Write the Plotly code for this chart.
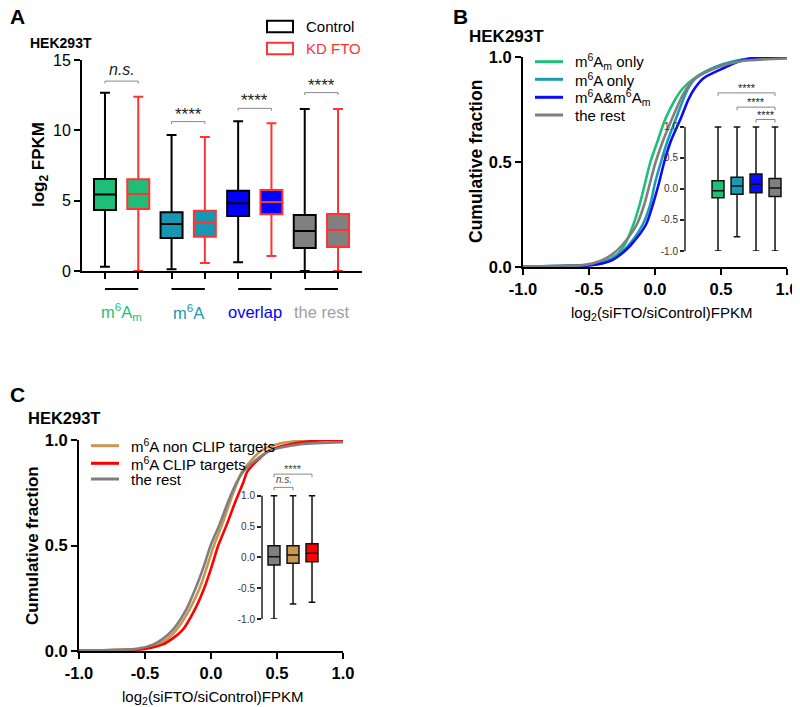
import plotly.graph_objects as go

W, H = 800, 707
OFF = 8  # page body margin offset of the embedded figure

# ---------------- Panel A data ----------------
a_groups = ["m<sup>6</sup>A<sub>m</sub>", "m<sup>6</sup>A", "overlap", "the rest"]
a_group_fill = ["#1dbf78", "#1797b2", "#0000ff", "#808080"]
a_group_text = ["#1dbf78", "#1797b2", "#0000ff", "#a0a0a0"]
a_conditions = ["Control", "KD FTO"]
a_cond_colors = ["#000000", "#ff3333"]
a_min = [[0.31, 0.0], [0.12, 0.57], [0.62, 1.07], [0.0, 0.0]]
a_q1 = [[4.34, 4.41], [2.35, 2.44], [3.91, 4.03], [1.64, 1.71]]
a_med = [[5.43, 5.47], [3.34, 3.44], [4.81, 4.90], [2.84, 2.91]]
a_q3 = [[6.54, 6.52], [4.17, 4.29], [5.71, 5.76], [3.98, 4.05]]
a_max = [[12.68, 12.39], [9.67, 9.53], [10.64, 10.50], [11.52, 11.52]]
a_sig = ["<i>n.s.</i>", "****", "****", "****"]
a_sig_y = [13.5, 10.62, 11.56, 12.68]
a_yticks = [0, 5, 10, 15]

# ---------------- Panel B data ----------------
b_names = ["m<sup>6</sup>A<sub>m</sub> only", "m<sup>6</sup>A only",
           "m<sup>6</sup>A&m<sup>6</sup>A<sub>m</sub>", "the rest"]
b_colors = ["#1dbf7a", "#1a9bb5", "#0a0aff", "#7f7f7f"]
b_y = [
    [0.003, 0.01, 0.03, 0.06, 0.1, 0.2, 0.3, 0.4, 0.5, 0.6, 0.7, 0.8, 0.85, 0.9, 0.95, 0.98, 1.0, 1.0],
    [0.003, 0.01, 0.03, 0.06, 0.1, 0.2, 0.3, 0.4, 0.5, 0.6, 0.7, 0.8, 0.85, 0.9, 0.95, 0.98, 1.0, 1.0],
    [0.003, 0.01, 0.03, 0.06, 0.1, 0.2, 0.3, 0.4, 0.5, 0.6, 0.7, 0.8, 0.85, 0.9, 0.95, 0.98, 1.0, 1.0],
    [0.003, 0.01, 0.03, 0.06, 0.1, 0.2, 0.3, 0.4, 0.5, 0.6, 0.7, 0.8, 0.85, 0.9, 0.95, 0.98, 0.993],
]
b_x = [
    [-1.0, -0.50, -0.37, -0.29, -0.235, -0.165, -0.115, -0.075, -0.035, 0.02, 0.075, 0.155, 0.21, 0.30, 0.45, 0.60, 0.85, 1.0],
    [-1.0, -0.48, -0.345, -0.27, -0.205, -0.095, -0.035, 0.0, 0.045, 0.095, 0.155, 0.215, 0.25, 0.31, 0.45, 0.60, 0.85, 1.0],
    [-1.0, -0.47, -0.335, -0.26, -0.19, -0.07, -0.015, 0.03, 0.07, 0.12, 0.19, 0.255, 0.30, 0.37, 0.53, 0.64, 0.80, 1.0],
    [-1.0, -0.53, -0.41, -0.325, -0.255, -0.14, -0.08, -0.038, 0.005, 0.06, 0.125, 0.195, 0.24, 0.31, 0.47, 0.65, 1.0],
]
ib_q1 = [-0.14, -0.086, -0.06, -0.12]
ib_med = [-0.03, 0.05, 0.075, 0.016]
ib_q3 = [0.134, 0.19, 0.24, 0.17]
ib_min = [-1.0, -0.77, -1.0, -1.0]
ib_max = [1.0, 1.0, 1.0, 1.0]
ib_brackets = [(1, 4, 1.55, "****"), (2, 4, 1.32, "****"), (3, 4, 1.12, "****")]

# ---------------- Panel C data ----------------
c_names = ["m<sup>6</sup>A non CLIP targets", "m<sup>6</sup>A CLIP targets", "the rest"]
c_colors = ["#c8964f", "#ff0000", "#7f7f7f"]
c_y = [
    [0.003, 0.01, 0.03, 0.06, 0.1, 0.2, 0.3, 0.4, 0.5, 0.6, 0.7, 0.8, 0.85, 0.9, 0.95, 0.98, 1.0, 1.0],
    [0.003, 0.01, 0.03, 0.06, 0.1, 0.2, 0.3, 0.4, 0.5, 0.6, 0.7, 0.8, 0.85, 0.9, 0.95, 0.98, 1.0, 1.0],
    [0.003, 0.01, 0.03, 0.06, 0.1, 0.2, 0.3, 0.4, 0.5, 0.6, 0.7, 0.8, 0.85, 0.9, 0.95, 0.98, 0.99],
]
c_x = [
    [-1.0, -0.53, -0.405, -0.325, -0.262, -0.16, -0.085, -0.03, 0.022, 0.085, 0.14, 0.20, 0.235, 0.30, 0.38, 0.50, 0.75, 1.0],
    [-1.0, -0.50, -0.37, -0.29, -0.215, -0.12, -0.05, 0.005, 0.055, 0.12, 0.18, 0.245, 0.275, 0.345, 0.44, 0.60, 0.88, 1.0],
    [-1.0, -0.56, -0.44, -0.36, -0.29, -0.185, -0.115, -0.055, -0.003, 0.065, 0.125, 0.195, 0.245, 0.33, 0.45, 0.68, 1.0],
]
ic_fill = ["#808080", "#c8964f", "#ff0000"]
ic_q1 = [-0.124, -0.097, -0.07]
ic_med = [0.01, 0.04, 0.065]
ic_q3 = [0.19, 0.19, 0.22]
ic_min = [-1.0, -0.757, -0.73]
ic_max = [1.0, 1.0, 1.0]
ic_brackets = [(1, 3, 1.35, "****"), (1, 2, 1.135, "<i>n.s.</i>")]

cdf_ticks = [-1.0, -0.5, 0.0, 0.5, 1.0]
cdf_yticks = [0.0, 0.5, 1.0]
inset_ticks = [-1.0, -0.5, 0.0, 0.5, 1.0]


def fx(px):
    return (px - OFF) / W


def fy(py):
    return 1 - (py - OFF) / H


FONT = "Liberation Sans, Arial, sans-serif"
BOLDTICK = dict(family=FONT, size=16.5, color="black", weight="bold")

fig = go.Figure()
shapes = []
ann = []


def text(x, y, s, size, color="black", xanchor="center", yanchor="middle",
         xref="paper", yref="paper", angle=0, yshift=0):
    ann.append(dict(x=x, y=y, xref=xref, yref=yref, text=s, showarrow=False,
                    xanchor=xanchor, yanchor=yanchor, textangle=angle, yshift=yshift,
                    font=dict(size=size, color=color, family=FONT)))


# ---------------- Panel A ----------------
for gi in range(len(a_groups)):
    for ci in range(2):
        pos = 1 + 2 * gi + ci
        fig.add_trace(go.Box(
            x=[pos], q1=[a_q1[gi][ci]], median=[a_med[gi][ci]], q3=[a_q3[gi][ci]],
            lowerfence=[a_min[gi][ci]], upperfence=[a_max[gi][ci]],
            fillcolor=a_group_fill[gi], line=dict(color=a_cond_colors[ci], width=2),
            width=0.66, whiskerwidth=0.45, boxpoints=False,
            xaxis="x", yaxis="y", showlegend=False, hoverinfo="skip"))
    p1, p2 = 1 + 2 * gi, 2 + 2 * gi
    yb = a_sig_y[gi]
    shapes.append(dict(type="path", xref="x", yref="y",
                       path=f"M {p1},{yb-0.17} L {p1},{yb} L {p2},{yb} L {p2},{yb-0.17}",
                       line=dict(color="#888888", width=1)))
    text((p1 + p2) / 2, yb, a_sig[gi], 16 if gi == 0 else 17, "#222",
         xref="x", yref="y", yanchor="bottom", yshift=1 if gi == 0 else -4)
    shapes.append(dict(type="line", xref="x", yref="paper", x0=p1, x1=p2,
                       y0=fy(289), y1=fy(289), line=dict(color="black", width=2)))
    text((p1 + p2) / 2, fy(312), a_groups[gi], 16.5, a_group_text[gi], xref="x")

for ci, (name, col) in enumerate(zip(a_conditions, a_cond_colors)):
    y0, y1 = [(20.7, 32.3), (42.7, 54.3)][ci]
    shapes.append(dict(type="rect", xref="paper", yref="paper", x0=fx(267), x1=fx(293),
                       y0=fy(y1), y1=fy(y0), line=dict(color=col, width=2)))
    text(fx(304), fy((y0 + y1) / 2), name, 15, col, xanchor="left")

text(fx(8), fy(17), "<b>A</b>", 21, xanchor="left")
text(fx(28), fy(43), "<b>HEK293T</b>", 14, xanchor="left")
text(fx(40), fy(165), "<b>log<sub>2</sub> FPKM</b>", 17, angle=-90)

# ---------------- Panel B ----------------
for i in range(len(b_names)):
    fig.add_trace(go.Scatter(x=b_x[i], y=b_y[i], mode="lines",
                             line=dict(color=b_colors[i], width=2.6, shape="spline", smoothing=0.8),
                             xaxis="x2", yaxis="y2", showlegend=False, hoverinfo="skip"))
    yy = [61.7, 79.3, 97.3, 115][i]
    shapes.append(dict(type="line", xref="paper", yref="paper", x0=fx(535), x1=fx(563),
                       y0=fy(yy), y1=fy(yy), line=dict(color=b_colors[i], width=3)))
    text(fx(573), fy(yy), b_names[i], 15, xanchor="left")

text(fx(451), fy(17), "<b>B</b>", 21, xanchor="left")
text(fx(467), fy(36), "<b>HEK293T</b>", 17, xanchor="left")
text(fx(476), fy(162), "<b>Cumulative fraction</b>", 17.5, angle=-90)
text(fx(661), fy(313), "log<sub>2</sub>(siFTO/siControl)FPKM", 15)

for i in range(4):
    fig.add_trace(go.Box(
        x=[i + 1], q1=[ib_q1[i]], median=[ib_med[i]], q3=[ib_q3[i]],
        lowerfence=[ib_min[i]], upperfence=[ib_max[i]],
        fillcolor=b_colors[i], line=dict(color="#111111", width=1.5),
        width=0.63, whiskerwidth=0.55, boxpoints=False,
        xaxis="x3", yaxis="y3", showlegend=False, hoverinfo="skip"))
for p1, p2, yb, txt in ib_brackets:
    shapes.append(dict(type="path", xref="x3", yref="y3",
                       path=f"M {p1},{yb-0.05} L {p1},{yb} L {p2},{yb} L {p2},{yb-0.05}",
                       line=dict(color="#888888", width=1)))
    text((p1 + p2) / 2, yb, txt, 11, "#222", xref="x3", yref="y3", yanchor="bottom", yshift=-3)
shapes.append(dict(type="line", xref="paper", yref="y3", x0=fx(685), x1=fx(685),
                   y0=-1, y1=1, line=dict(color="#222", width=1.5)))

# ---------------- Panel C ----------------
for i in range(len(c_names)):
    fig.add_trace(go.Scatter(x=c_x[i], y=c_y[i], mode="lines",
                             line=dict(color=c_colors[i], width=2.6, shape="spline", smoothing=0.8),
                             xaxis="x4", yaxis="y4", showlegend=False, hoverinfo="skip"))
    yy = [445.7, 463.3, 479][i]
    shapes.append(dict(type="line", xref="paper", yref="paper", x0=fx(91), x1=fx(119),
                       y0=fy(yy), y1=fy(yy), line=dict(color=c_colors[i], width=3)))
    text(fx(129), fy(yy), c_names[i], 15, xanchor="left")

text(fx(8), fy(394), "<b>C</b>", 21, xanchor="left")
text(fx(26), fy(418), "<b>HEK293T</b>", 16.5, xanchor="left")
text(fx(32), fy(546), "<b>Cumulative fraction</b>", 17, angle=-90)
text(fx(212), fy(697), "log<sub>2</sub>(siFTO/siControl)FPKM", 15)

for i in range(3):
    fig.add_trace(go.Box(
        x=[i + 1], q1=[ic_q1[i]], median=[ic_med[i]], q3=[ic_q3[i]],
        lowerfence=[ic_min[i]], upperfence=[ic_max[i]],
        fillcolor=ic_fill[i], line=dict(color="#111111", width=1.5),
        width=0.63, whiskerwidth=0.55, boxpoints=False,
        xaxis="x5", yaxis="y5", showlegend=False, hoverinfo="skip"))
for p1, p2, yb, txt in ic_brackets:
    shapes.append(dict(type="path", xref="x5", yref="y5",
                       path=f"M {p1},{yb-0.05} L {p1},{yb} L {p2},{yb} L {p2},{yb-0.05}",
                       line=dict(color="#888888", width=1)))
    text((p1 + p2) / 2, yb, txt, 11 if txt == "****" else 10, "#444",
         xref="x5", yref="y5", yanchor="bottom", yshift=-3 if txt == "****" else 0)
shapes.append(dict(type="line", xref="paper", yref="y5", x0=fx(262), x1=fx(262),
                   y0=-1, y1=1, line=dict(color="#222", width=1.5)))

# ---------------- Axes ----------------
main_line = dict(showline=True, linecolor="black", linewidth=2, ticks="outside",
                 ticklen=6, tickwidth=2, tickcolor="black", showgrid=False,
                 zeroline=False, automargin=False)
inset_y = dict(showline=False, showgrid=False, zeroline=False, ticks="outside",
               ticklen=4, tickwidth=1.5, tickcolor="#222", automargin=False,
               tickvals=inset_ticks, ticktext=[f"{v:.1f}" for v in inset_ticks],
               tickfont=dict(size=10, color="#333", family=FONT))

layout_axes = dict(
    xaxis=dict(domain=[fx(82), fx(362)], range=[0.31, 8.72], anchor="y",
               tickvals=list(range(1, 9)), showticklabels=False, **main_line),
    yaxis=dict(domain=[fy(271), fy(60)], range=[0, 15], anchor="x",
               tickvals=a_yticks, tickfont=dict(size=16, color="black", family=FONT), **main_line),
    xaxis2=dict(domain=[fx(523), fx(787)], range=[-1, 1], anchor="y2",
                tickvals=cdf_ticks, ticktext=[f"{v:.1f}" for v in cdf_ticks],
                tickfont=BOLDTICK, **main_line),
    yaxis2=dict(domain=[fy(267), fy(57)], range=[0, 1], anchor="x2",
                tickvals=cdf_yticks, ticktext=[f"{v:.1f}" for v in cdf_yticks],
                tickfont=BOLDTICK, **main_line),
    xaxis3=dict(domain=[fx(685), fx(787)], range=[-0.737, 4.63], anchor="y3",
                visible=False, automargin=False),
    yaxis3=dict(domain=[fy(251), fy(78.6)], range=[-1, 1.78], anchor="x3", **inset_y),
    xaxis4=dict(domain=[fx(79), fx(343)], range=[-1, 1], anchor="y4",
                tickvals=cdf_ticks, ticktext=[f"{v:.1f}" for v in cdf_ticks],
                tickfont=BOLDTICK, **main_line),
    yaxis4=dict(domain=[fy(651), fy(440)], range=[0, 1], anchor="x4",
                tickvals=cdf_yticks, ticktext=[f"{v:.1f}" for v in cdf_yticks],
                tickfont=BOLDTICK, **main_line),
    xaxis5=dict(domain=[fx(262), fx(330)], range=[0.368, 3.947], anchor="y5",
                visible=False, automargin=False),
    yaxis5=dict(domain=[fy(619), fy(461.8)], range=[-1, 1.55], anchor="x5", **inset_y),
)

fig.update_layout(
    width=W, height=H, margin=dict(l=0, r=0, t=0, b=0, pad=0, autoexpand=False),
    paper_bgcolor="white", plot_bgcolor="rgba(0,0,0,0)",
    font=dict(family=FONT, color="black"),
    boxmode="overlay", showlegend=False,
    shapes=shapes, annotations=ann,
    **layout_axes,
)

fig.write_html("out.html")
